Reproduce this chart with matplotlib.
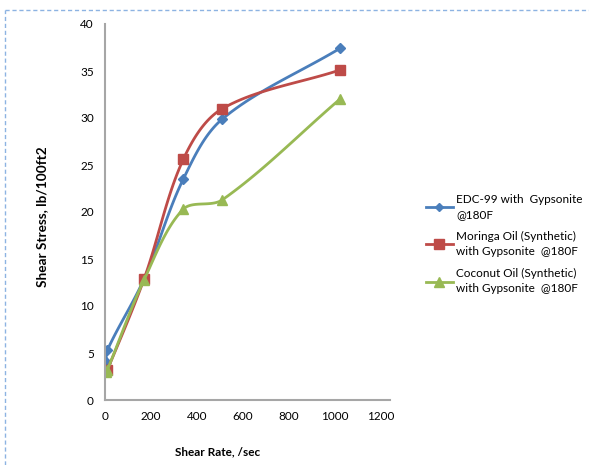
import numpy as np
import matplotlib.pyplot as plt
from matplotlib.lines import Line2D

plt.rcParams['font.family'] = ['Lato', 'DejaVu Sans']

shear_rate = [5.11, 10.22, 170.3, 340.6, 510.9, 1021.8]
edc99 = [4.0, 5.3, 12.9, 23.5, 29.9, 37.4]
moringa = [3.2, 3.2, 12.9, 25.6, 31.0, 35.1]
coconut = [3.0, 3.2, 12.8, 20.3, 21.3, 32.0]

labels = ['EDC-99 with  Gypsonite\n@180F',
          'Moringa Oil (Synthetic)\nwith Gypsonite  @180F',
          'Coconut Oil (Synthetic)\nwith Gypsonite  @180F']
colors = ['#4a7ebb', '#be4b48', '#98b954']
markers = ['D', 's', '^']
msizes = [5.5, 7.5, 7.5]


def smooth(x, y, sx=1.0, sy=1.0, n=24):
    # chord-length bezier curve through the points (smoothed line)
    P = np.column_stack([np.asarray(x, float) * sx, np.asarray(y, float) * sy])
    L = np.hypot(*np.diff(P, axis=0).T)
    L = np.where(L == 0, 1e-9, L)
    d = np.zeros_like(P)
    d[0] = (P[1] - P[0]) / L[0]
    d[-1] = (P[-1] - P[-2]) / L[-1]
    for i in range(1, len(P) - 1):
        d[i] = (P[i + 1] - P[i - 1]) / (L[i - 1] + L[i])
    t = np.linspace(0, 1, n)[:, None]
    pts = []
    for i in range(len(P) - 1):
        c1 = P[i] + d[i] * L[i] / 3
        c2 = P[i + 1] - d[i + 1] * L[i] / 3
        pts.append((1 - t) ** 3 * P[i] + 3 * (1 - t) ** 2 * t * c1
                   + 3 * (1 - t) * t ** 2 * c2 + t ** 3 * P[i + 1])
    pts = np.vstack(pts)
    return pts[:, 0] / sx, pts[:, 1] / sy


fig = plt.figure(figsize=(5.89, 4.65), dpi=100)
ax = fig.add_axes([105 / 589, 65 / 465, 285 / 589, 376 / 465])

for ys, c, m, ms in zip([edc99, moringa, coconut], colors, markers, msizes):
    cx, cy = smooth(shear_rate, ys, 285 / 1240, 376 / 40)
    ax.plot(cx, cy, color=c, lw=2.0, solid_capstyle='round')
    ax.plot(shear_rate, ys, ls='none', marker=m, ms=ms, color=c)

ax.set_xlim(0, 1240)
ax.set_ylim(0, 40)
ax.set_xticks(range(0, 1201, 200))
ax.set_yticks(range(0, 41, 5))
ax.tick_params(length=0, labelsize=8.5, pad=8)
for s in ['top', 'right']:
    ax.spines[s].set_visible(False)
for s in ['left', 'bottom']:
    ax.spines[s].set_color('#a6a6a6')
    ax.spines[s].set_linewidth(1.5)

fig.text(218 / 589, 1 - 452 / 465, 'Shear Rate, /sec', ha='center', va='center',
         fontsize=8.5, fontweight='bold')
fig.text(42 / 589, 1 - 217 / 465, 'Shear Stress, lb/100ft2', ha='center', va='center',
         rotation=90, fontsize=9.8, fontweight='bold')

handles = [Line2D([], [], color=c, marker=m, ms=ms - 1, lw=2)
           for c, m, ms in zip(colors, markers, msizes)]
leg = fig.legend(handles, labels, loc='center left',
                 bbox_to_anchor=(415 / 589, 1 - 244 / 465),
                 frameon=False, fontsize=8.5, handlelength=2.3, handletextpad=0.3,
                 labelspacing=0.9)
for txt in leg.get_texts():
    txt.set_linespacing(1.5)

# dashed frame along the top and left edges
fig.add_artist(Line2D([5 / 589, 1], [1 - 10 / 465, 1 - 10 / 465], color='#8db3e2',
                      lw=1, ls=(0, (3, 2)), transform=fig.transFigure))
fig.add_artist(Line2D([5 / 589, 5 / 589], [0, 1 - 10 / 465], color='#8db3e2',
                      lw=1, ls=(0, (3, 2)), transform=fig.transFigure))

fig.savefig('out.png', dpi=100)
